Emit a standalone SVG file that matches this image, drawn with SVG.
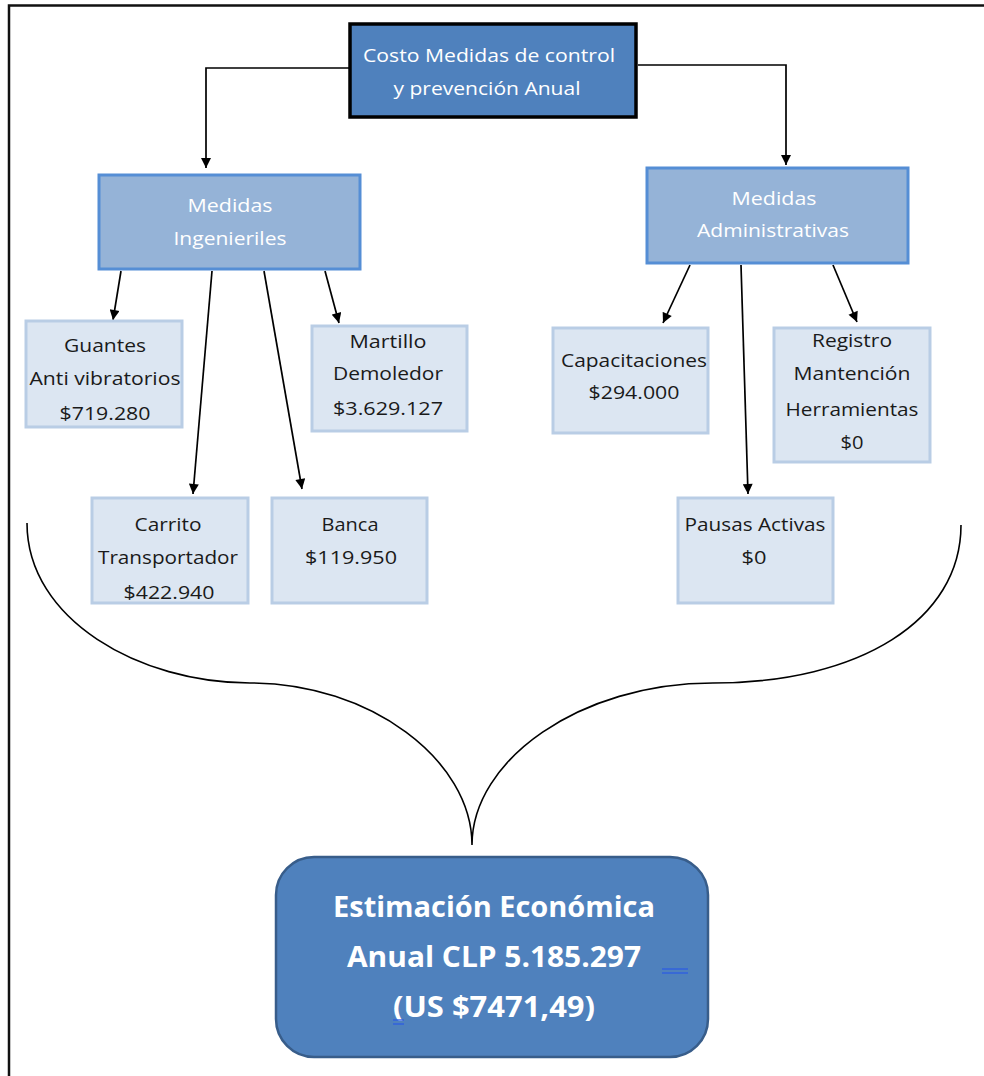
<svg xmlns="http://www.w3.org/2000/svg" width="984" height="1076" viewBox="0 0 984 1076">
<defs>
<marker id="arr" viewBox="0 0 10 10" refX="10" refY="5" markerWidth="11" markerHeight="10" markerUnits="userSpaceOnUse" orient="auto">
<path d="M0,0 L10,5 L0,10 Z" fill="#000"/>
</marker>
<style>
.frame{stroke:#111;stroke-width:2.5;fill:none}
.top{fill:#4F81BD;stroke:#000;stroke-width:3.5}
.mid{fill:#95B3D7;stroke:#558ED5;stroke-width:3}
.leaf{fill:#DCE6F2;stroke:#B9CDE5;stroke-width:3}
.res{fill:#4F81BD;stroke:#385D8A;stroke-width:2.5}
.conn{stroke:#000;stroke-width:1.7;fill:none}
.brace{stroke:#000;stroke-width:1.6;fill:none}
text{font-family:"Open Sans","Noto Sans",sans-serif;text-anchor:middle}
.tw{fill:#fff;font-size:18.5px}
.tk{fill:#1a1a1a;font-size:18.5px}
.tb{fill:#fff;font-size:28px;font-weight:bold}
.mark{stroke:#2F5FE0;stroke-width:1.4}
</style>
</defs>
<rect width="984" height="1076" fill="#fff"/>
<path class="frame" d="M9,1076 V5.5 H984"/>

<g id="connectors">
<polyline class="conn" points="349,68 206,68 206,168" marker-end="url(#arr)"/>
<polyline class="conn" points="638,65 786,65 786,165" marker-end="url(#arr)"/>
<line class="conn" x1="121" y1="271" x2="113" y2="320" marker-end="url(#arr)"/>
<line class="conn" x1="212" y1="271" x2="193" y2="494" marker-end="url(#arr)"/>
<line class="conn" x1="264" y1="271" x2="302" y2="489" marker-end="url(#arr)"/>
<line class="conn" x1="325" y1="271" x2="339" y2="323" marker-end="url(#arr)"/>
<line class="conn" x1="690" y1="265" x2="663" y2="323" marker-end="url(#arr)"/>
<line class="conn" x1="741" y1="265" x2="748" y2="494" marker-end="url(#arr)"/>
<line class="conn" x1="833" y1="265" x2="857" y2="322" marker-end="url(#arr)"/>
<path class="brace" d="M27,523 C27,620 140,683 250,683 C370,683 472,760 472,845 C472,760 580,683 713,683 C860,683 961,620 961,525"/>
</g>

<g id="n-root">
<rect class="top" x="350" y="24" width="286" height="93"/>
<text class="tw" x="489" y="62" textLength="252" lengthAdjust="spacingAndGlyphs">Costo Medidas de control</text>
<text class="tw" x="487" y="95" textLength="187" lengthAdjust="spacingAndGlyphs">y prevención Anual</text>
</g>

<g id="n-ing">
<rect class="mid" x="99" y="175" width="261" height="94"/>
<text class="tw" x="230" y="212" textLength="85" lengthAdjust="spacingAndGlyphs">Medidas</text>
<text class="tw" x="230" y="245" textLength="113" lengthAdjust="spacingAndGlyphs">Ingenieriles</text>
</g>

<g id="n-adm">
<rect class="mid" x="647" y="168" width="261" height="95"/>
<text class="tw" x="774" y="205" textLength="85" lengthAdjust="spacingAndGlyphs">Medidas</text>
<text class="tw" x="773" y="237" textLength="152" lengthAdjust="spacingAndGlyphs">Administrativas</text>
</g>

<g id="n-guantes">
<rect class="leaf" x="26" y="321" width="156" height="106"/>
<text class="tk" x="105" y="352" textLength="82" lengthAdjust="spacingAndGlyphs">Guantes</text>
<text class="tk" x="105" y="385" textLength="151" lengthAdjust="spacingAndGlyphs">Anti vibratorios</text>
<text class="tk" x="105" y="420" textLength="91" lengthAdjust="spacingAndGlyphs">$719.280</text>
</g>

<g id="n-martillo">
<rect class="leaf" x="312" y="326" width="155" height="105"/>
<text class="tk" x="388" y="348" textLength="77" lengthAdjust="spacingAndGlyphs">Martillo</text>
<text class="tk" x="388" y="380" textLength="110" lengthAdjust="spacingAndGlyphs">Demoledor</text>
<text class="tk" x="388" y="415" textLength="110" lengthAdjust="spacingAndGlyphs">$3.629.127</text>
</g>

<g id="n-carrito">
<rect class="leaf" x="92" y="498" width="156" height="105"/>
<text class="tk" x="168" y="531" textLength="67" lengthAdjust="spacingAndGlyphs">Carrito</text>
<text class="tk" x="168" y="564" textLength="140" lengthAdjust="spacingAndGlyphs">Transportador</text>
<text class="tk" x="169" y="599" textLength="91" lengthAdjust="spacingAndGlyphs">$422.940</text>
</g>

<g id="n-banca">
<rect class="leaf" x="272" y="498" width="155" height="105"/>
<text class="tk" x="350" y="531" textLength="57" lengthAdjust="spacingAndGlyphs">Banca</text>
<text class="tk" x="351" y="564" textLength="92" lengthAdjust="spacingAndGlyphs">$119.950</text>
</g>

<g id="n-capacitaciones">
<rect class="leaf" x="553" y="328" width="155" height="105"/>
<text class="tk" x="634" y="367" textLength="146" lengthAdjust="spacingAndGlyphs">Capacitaciones</text>
<text class="tk" x="634" y="399" textLength="91" lengthAdjust="spacingAndGlyphs">$294.000</text>
</g>

<g id="n-registro">
<rect class="leaf" x="774" y="328" width="156" height="134"/>
<text class="tk" x="852" y="347" textLength="80" lengthAdjust="spacingAndGlyphs">Registro</text>
<text class="tk" x="852" y="380" textLength="117" lengthAdjust="spacingAndGlyphs">Mantención</text>
<text class="tk" x="852" y="416" textLength="133" lengthAdjust="spacingAndGlyphs">Herramientas</text>
<text class="tk" x="852" y="449" textLength="23" lengthAdjust="spacingAndGlyphs">$0</text>
</g>

<g id="n-pausas">
<rect class="leaf" x="678" y="498" width="155" height="105"/>
<text class="tk" x="755" y="531" textLength="141" lengthAdjust="spacingAndGlyphs">Pausas Activas</text>
<text class="tk" x="754" y="564" textLength="25" lengthAdjust="spacingAndGlyphs">$0</text>
</g>

<g id="n-estimacion">
<rect class="res" x="276" y="857" width="432" height="200" rx="38" ry="38"/>
<text class="tb" x="494" y="917" textLength="322" lengthAdjust="spacingAndGlyphs">Estimación Económica</text>
<text class="tb" x="494" y="967" textLength="294" lengthAdjust="spacingAndGlyphs">Anual CLP 5.185.297</text>
<text class="tb" x="494" y="1017" textLength="202" lengthAdjust="spacingAndGlyphs">(US $7471,49)</text>
<line class="mark" x1="662" y1="969" x2="688" y2="969"/>
<line class="mark" x1="662" y1="973" x2="688" y2="973"/>
<line class="mark" x1="393" y1="1020" x2="404" y2="1020"/>
<line class="mark" x1="393" y1="1024" x2="404" y2="1024"/>
</g>
</svg>
